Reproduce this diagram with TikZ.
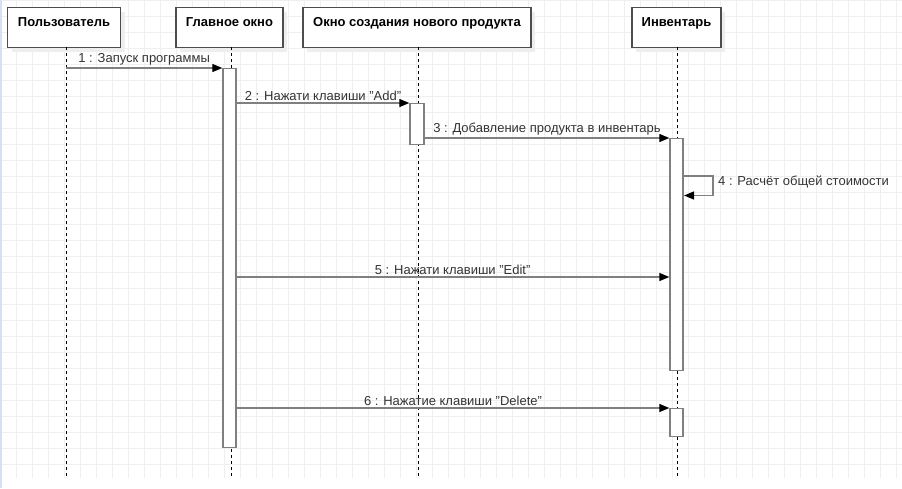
\documentclass[tikz,border=0pt]{standalone}
\usepackage{fontspec}
\setmainfont{Liberation Sans}
\usetikzlibrary{arrows.meta,shadows}
\definecolor{gridc}{HTML}{EFEFEF}
\definecolor{edgec}{HTML}{808080}
\definecolor{boxc}{HTML}{4D4D4D}
\definecolor{txtc}{HTML}{333333}
\definecolor{leftc}{HTML}{D4E1F5}
\definecolor{shadc}{HTML}{EEEEEE}
\begin{document}
\begin{tikzpicture}[x=1pt,y=-1pt,
  actorbox/.style={draw=boxc, line width=1.1pt, fill=white, minimum height=40pt,
    inner sep=0pt, text height=9.5pt, text depth=11pt,
    font=\fontsize{13}{15}\selectfont\bfseries, text=black, anchor=north,
    general shadow={shadow xshift=4pt, shadow yshift=-4pt, fill=shadc}},
  actbar/.style={draw=edgec, line width=1.4pt, fill=white, minimum width=13pt,
    inner sep=0pt, anchor=north},
  lifeline/.style={draw=black, line width=0.9pt, dash pattern=on 3pt off 3pt},
  msg/.style={draw=edgec, line width=1.3pt,
    -{Triangle[length=10pt,width=8pt,color=black]}},
  lbl/.style={font=\fontsize{13}{15}\selectfont, text=txtc, inner sep=2pt}
]
\useasboundingbox (0,0) rectangle (902,488);
% grid background
\foreach \gx in {16,32,...,896} \draw[gridc, line width=0.8pt] (\gx,0) -- (\gx,478);
\foreach \gy in {0,16,...,464} \draw[gridc, line width=0.8pt] (0,\gy) -- (902,\gy);
\draw[leftc, line width=1.5pt] (0.75,0) -- (0.75,488);

% actors
\node[actorbox, minimum width=113pt] (user) at (64,7) {Пользователь};
\node[actorbox, minimum width=107pt] (main) at (229.5,7) {Главное окно};
\node[actorbox, minimum width=228pt] (newp) at (417,7) {Окно создания нового продукта};
\node[actorbox, minimum width=89pt] (inv) at (676.5,7) {Инвентарь};

% lifelines
\coordinate (uT) at (66,47);   \coordinate (uB) at (66,478);
\coordinate (gT) at (231,47);  \coordinate (gB) at (231,478);
\coordinate (oT) at (418,47);  \coordinate (oB) at (418,478);
\coordinate (iT) at (677,47);  \coordinate (iB) at (677,478);
\draw[lifeline] (uT) -- (uB);
\draw[lifeline] (gT) -- (gB);
\draw[lifeline] (oT) -- (oB);
\draw[lifeline] (iT) -- (iB);

% activation bars
\node[actbar, minimum height=379pt] (gbar) at (229.5,68) {};
\node[actbar, minimum height=41pt, minimum width=14pt] (obar) at (417,103) {};
\node[actbar, minimum height=232pt] (ibarA) at (676.5,138) {};
\node[actbar, minimum height=28pt] (ibarB) at (676.5,408) {};

% messages
\coordinate (m1) at (66,68);
\draw[msg] (m1) -- (m1 -| gbar.west) node[lbl, midway, above] {1 : Запуск программы};
\draw[msg] (obar.north west -| gbar.east) -- (obar.north west)
  node[lbl, midway, above] {2 : Нажати клавиши "Add"};
\draw[msg] (ibarA.north west -| obar.east) -- (ibarA.north west)
  node[lbl, midway, above] {3 : Добавление продукта в инвентарь};
\coordinate (m4) at (683,176);
\coordinate (m4r) at (713,176);
\coordinate (m4b) at (713,195.5);
\coordinate (m4e) at (684,195.5);
\draw[msg] (m4) -- (m4r) -- (m4b) -- (m4e);
\node[lbl, anchor=west] (l4) at (716,182) {4 : Расчёт общей стоимости};
\coordinate (m5) at (236,277);
\draw[msg] (m5) -- (m5 -| ibarA.west) node[lbl, midway, above] {5 : Нажати клавиши "Edit"};
\draw[msg] (ibarB.north west -| gbar.east) -- (ibarB.north west)
  node[lbl, midway, above] {6 : Нажатие клавиши "Delete"};
\end{tikzpicture}
\end{document}
